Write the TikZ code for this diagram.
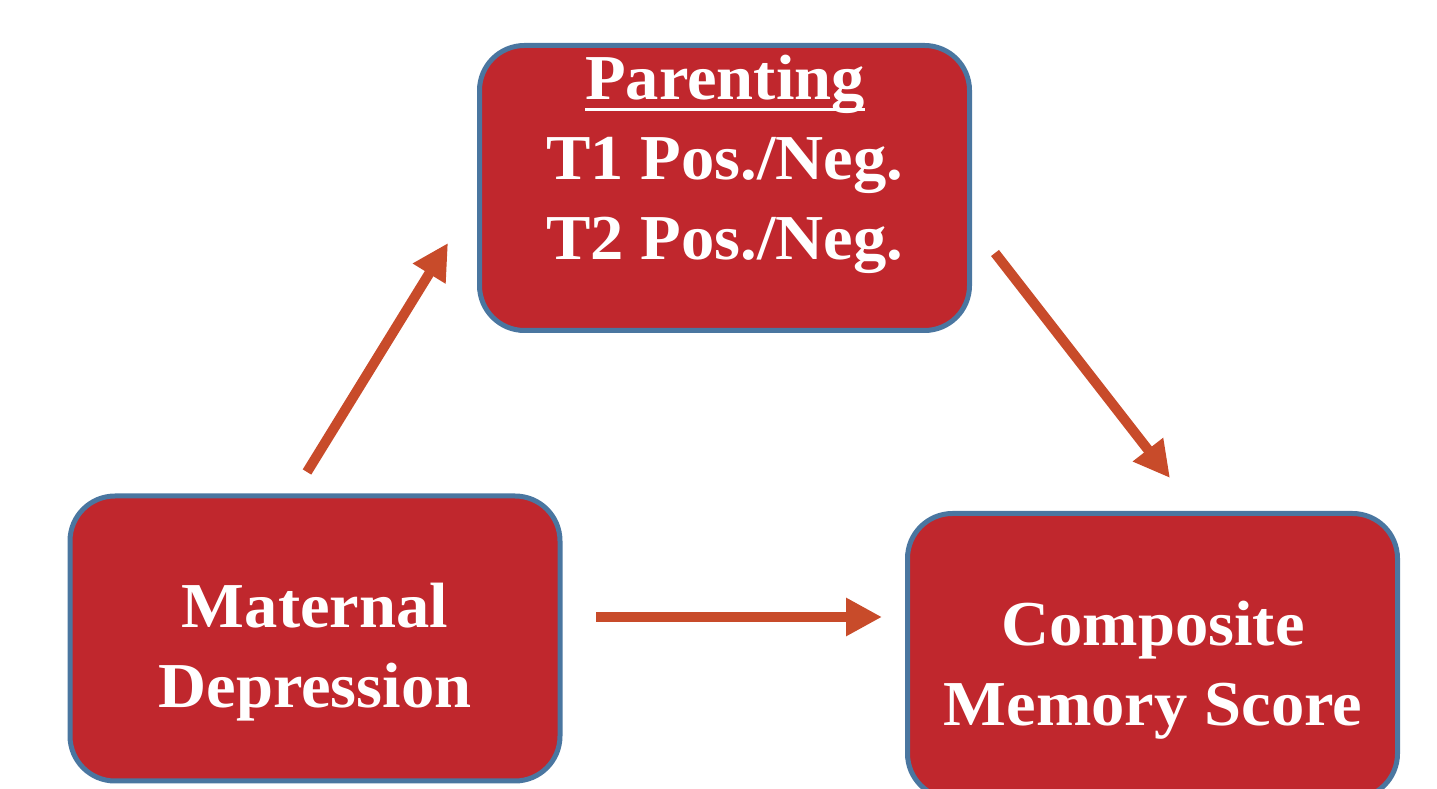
\documentclass[tikz,border=0pt]{standalone}
\usepackage{fontspec}
\setmainfont{Liberation Serif}
\newfontfamily\lblfont[FakeStretch=1.04]{Liberation Serif}
\usetikzlibrary{arrows.meta}
\definecolor{boxred}{HTML}{C0272D}
\definecolor{boxblue}{HTML}{4A76A0}
\definecolor{arrowred}{HTML}{C84B2A}
\newcommand{\myul}[1]{{\setbox0\hbox{#1}\rlap{\rule[-12pt]{\wd0}{3pt}}\box0}}
\begin{document}
\begin{tikzpicture}[x=1pt,y=1pt,
  box/.style={draw=boxblue, line width=5pt, fill=boxred, rounded corners=45pt,
    minimum width=490pt, minimum height=285pt, inner sep=0pt},
  lbl/.style={text=white, font=\lblfont\bfseries\fontsize{64}{80}\selectfont, align=center, inner sep=0pt},
  conn/.style={draw=arrowred, line width=10pt, -{Triangle[length=36pt,width=36pt]}}]
\useasboundingbox (0,0) rectangle (1437,789);
\clip (0,0) rectangle (1437,789);
\node[box] (par) at (724.5,601) {};
\node[box] (mat) at (315,150.5) {};
\node[box] (com) at (1152.5,133) {};
\node[lbl] (parl) at (725,625) {\myul{Parenting}\\T1 Pos./Neg.\\T2 Pos./Neg.};
\node[lbl] (matl) at (315,137) {Maternal\\Depression};
\node[lbl] (coml) at (1153,119) {Composite\\Memory Score};
\coordinate (a1s) at (307,317);
\coordinate (a1e) at (448,546);
\coordinate (a2s) at (995,536);
\coordinate (a2e) at (1170,311);
\coordinate (a3s) at (596,172);
\coordinate (a3e) at (882,172);
\draw[conn] (a1s) -- (a1e);
\draw[conn] (a2s) -- (a2e);
\draw[conn] (a3s) -- (a3e);
\end{tikzpicture}
\end{document}
